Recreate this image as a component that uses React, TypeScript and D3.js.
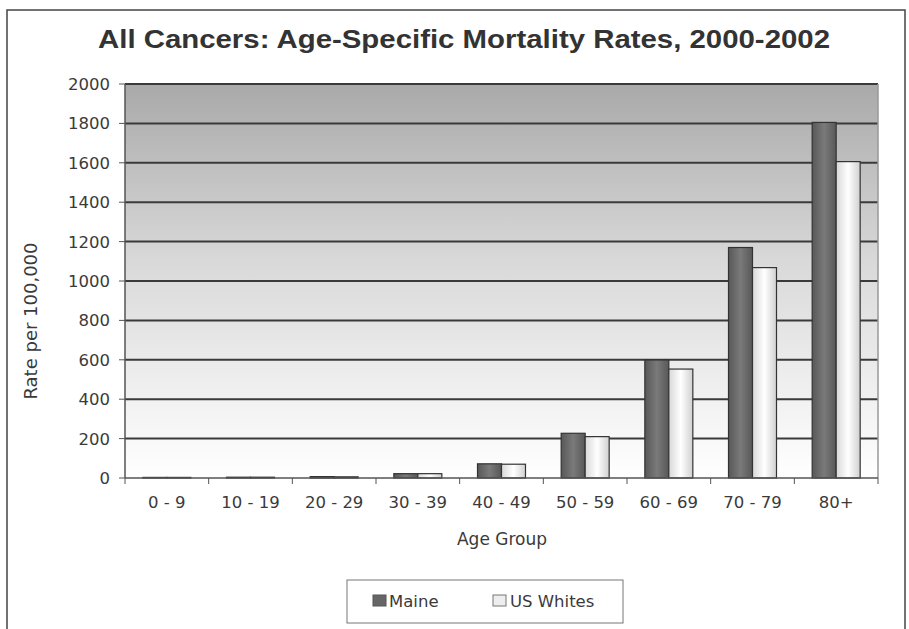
import React from "react";
import * as d3 from "d3";

const categories = ["0 - 9", "10 - 19", "20 - 29", "30 - 39", "40 - 49", "50 - 59", "60 - 69", "70 - 79", "80+"];
const maine = [3, 4, 7, 22, 72, 227, 599, 1170, 1805];
const usWhites = [3, 4, 6, 22, 70, 210, 553, 1068, 1606];
const yTicks = [0, 200, 400, 600, 800, 1000, 1200, 1400, 1600, 1800, 2000];
const seriesNames = ["Maine", "US Whites"];

const W = 909, H = 629;
const left = 125, right = 878, top = 84, bottom = 478;

export default function App() {
  const x = d3.scaleBand<string>().domain(categories).range([left, right]).paddingInner(0).paddingOuter(0);
  const y = d3.scaleLinear().domain([0, 2000]).range([bottom, top]);
  const barW = 24;
  const titleFont = "Arial, 'Liberation Sans', Helvetica, sans-serif";
  const font = "'DejaVu Sans', Verdana, sans-serif";
  const txt = "#3a3a3a";
  return (
    <svg width={W} height={H} style={{ position: "absolute", left: 0, top: 0, background: "#fff" }} fontFamily={font}>
      <defs>
        <linearGradient id="bg" x1="0" y1="0" x2="0" y2="1">
          <stop offset="0%" stopColor="#a9a9a9" />
          <stop offset="45%" stopColor="#d9d9d9" />
          <stop offset="100%" stopColor="#ffffff" />
        </linearGradient>
        <linearGradient id="dark" x1="0" y1="0" x2="1" y2="0">
          <stop offset="0%" stopColor="#585858" />
          <stop offset="50%" stopColor="#7a7a7a" />
          <stop offset="100%" stopColor="#585858" />
        </linearGradient>
        <linearGradient id="light" x1="0" y1="0" x2="1" y2="0">
          <stop offset="0%" stopColor="#d8d8d8" />
          <stop offset="50%" stopColor="#ffffff" />
          <stop offset="100%" stopColor="#d0d0d0" />
        </linearGradient>
      </defs>
      <rect x={7} y={10} width={898} height={640} fill="#fff" stroke="#444" strokeWidth={1.5} />
      <text x={464} y={48} textAnchor="middle" fontSize={26} fontWeight="bold" fill="#333" fontFamily={titleFont}
        textLength={732} lengthAdjust="spacingAndGlyphs">
        All Cancers: Age-Specific Mortality Rates, 2000-2002
      </text>
      <rect x={left} y={top} width={right - left} height={bottom - top} fill="url(#bg)" />
      {yTicks.map((t) => (
        <g key={t}>
          {t > 0 && <line x1={left} x2={right} y1={y(t)} y2={y(t)} stroke="#3a3a3a" strokeWidth={2} />}
          <line x1={left - 6} x2={left} y1={y(t)} y2={y(t)} stroke="#555" strokeWidth={1} />
          <text x={110} y={y(t) + 6} textAnchor="end" fontSize={16.5} fill={txt}>{t}</text>
        </g>
      ))}
      <line x1={right} x2={right} y1={top} y2={bottom} stroke="#999" strokeWidth={1.5} />
      {categories.map((c, i) => {
        const cx = (x(c) as number) + x.bandwidth() / 2;
        return (
          <g key={c}>
            <rect x={cx - barW} y={y(maine[i])} width={barW} height={bottom - y(maine[i])} fill="url(#dark)" stroke="#333" strokeWidth={1.2} />
            <rect x={cx} y={y(usWhites[i])} width={barW} height={bottom - y(usWhites[i])} fill="url(#light)" stroke="#333" strokeWidth={1.2} />
            <text x={cx} y={508} textAnchor="middle" fontSize={16.5} fill={txt}>{c}</text>
          </g>
        );
      })}
      {categories.map((c, i) => (
        <line key={"t" + i} x1={(x(c) as number)} x2={(x(c) as number)} y1={bottom} y2={bottom + 6} stroke="#555" />
      ))}
      <line x1={right} x2={right} y1={bottom} y2={bottom + 6} stroke="#555" />
      <line x1={left} x2={right} y1={bottom} y2={bottom} stroke="#555" strokeWidth={1.5} />
      <line x1={left} x2={left} y1={top} y2={bottom} stroke="#555" strokeWidth={1.5} />
      <text x={502} y={545} textAnchor="middle" fontSize={17} fill={txt}>Age Group</text>
      <text transform={`translate(37, 321) rotate(-90)`} textAnchor="middle" fontSize={18} fill={txt}>Rate per 100,000</text>
      <rect x={347} y={580} width={276} height={43} fill="#fff" stroke="#777" strokeWidth={1} />
      <rect x={373} y={595} width={13} height={11} fill="#666" stroke="#555" />
      <text x={389} y={607} fontSize={16.5} fill={txt}>{seriesNames[0]}</text>
      <rect x={493} y={595} width={13} height={11} fill="#eee" stroke="#777" />
      <text x={510} y={607} fontSize={16.5} fill={txt}>{seriesNames[1]}</text>
    </svg>
  );
}
